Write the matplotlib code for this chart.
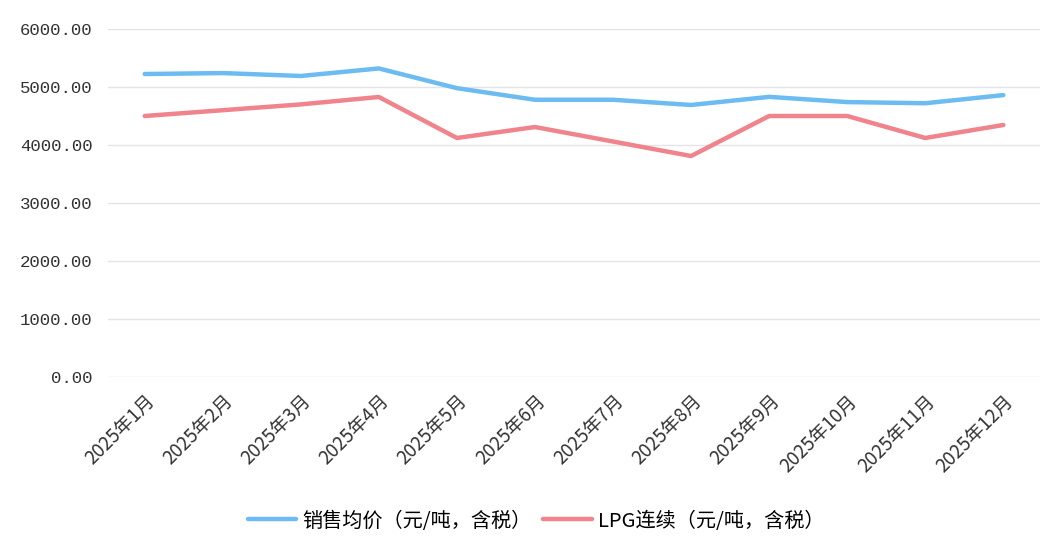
import matplotlib
matplotlib.use("Agg")
import matplotlib.pyplot as plt

plt.rcParams['font.family'] = ['Noto Sans CJK SC', 'DejaVu Sans']

# data
months = ['2025年1月', '2025年2月', '2025年3月', '2025年4月', '2025年5月', '2025年6月',
          '2025年7月', '2025年8月', '2025年9月', '2025年10月', '2025年11月', '2025年12月']
avg_price = [5224, 5240, 5190, 5320, 4980, 4780, 4780, 4690, 4830, 4740, 4720, 4860]
lpg_cont = [4500, 4600, 4700, 4828, 4121, 4310, 4060, 3810, 4500, 4500, 4121, 4345]
name_avg = '销售均价（元/吨，含税）'
name_lpg = 'LPG连续（元/吨，含税）'
y_ticks = [0, 1000, 2000, 3000, 4000, 5000, 6000]

fig = plt.figure(figsize=(10.62, 5.53), dpi=100)
ax = fig.add_axes([108 / 1062, 1 - 377 / 553, (1040 - 108) / 1062, (377 - 29) / 553])

x = list(range(len(months)))
l1, = ax.plot(x, avg_price, color='#6cbcf2', lw=3.2, solid_capstyle='round', label=name_avg)
l2, = ax.plot(x, lpg_cont, color='#f0838c', lw=3.2, solid_capstyle='round', label=name_lpg)

ax.set_xlim(-0.47, 11.47)
ax.set_ylim(0, 6000)
ax.set_yticks(y_ticks)
ax.set_yticklabels(['%.2f' % v for v in y_ticks], family='Liberation Mono', fontsize=12.5, color='#333333')
ax.set_xticks(x)
ax.set_xticklabels(months, rotation=45, ha='right', rotation_mode='anchor', fontsize=13.5, color='#333333')
ax.tick_params(axis='both', length=0)
ax.tick_params(axis='y', pad=11)
ax.tick_params(axis='x', pad=10)
ax.grid(axis='y', color='#e4e4e4', lw=1)
ax.set_axisbelow(True)
for s in ax.spines.values():
    s.set_visible(False)

fig.legend(handles=[l1, l2], loc='center', bbox_to_anchor=(536 / 1062, 1 - 521 / 553),
           ncol=2, frameon=False, fontsize=14.5, handlelength=2.4, handletextpad=0.3,
           columnspacing=0.6)

fig.savefig('out.png', dpi=100)
